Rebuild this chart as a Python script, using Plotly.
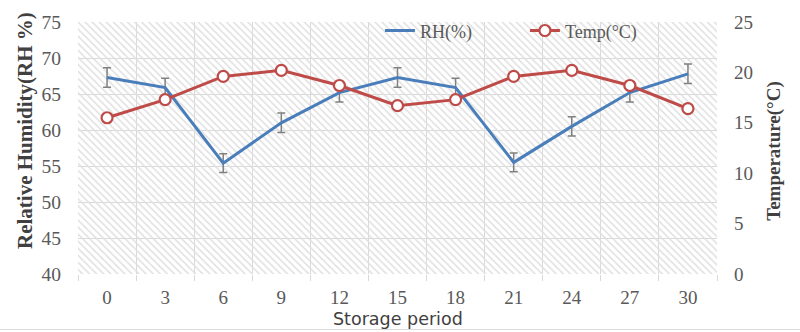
import plotly.graph_objects as go

# Storage period (days) and measured series
periods = ["0", "3", "6", "9", "12", "15", "18", "21", "24", "27", "30"]
rh_values = [67.3, 65.9, 55.4, 61.0, 65.2, 67.3, 65.9, 55.5, 60.5, 65.2, 67.8]
rh_errors = [1.35, 1.3, 1.3, 1.35, 1.3, 1.35, 1.3, 1.3, 1.35, 1.3, 1.35]
temp_values = [15.5, 17.3, 19.6, 20.2, 18.7, 16.7, 17.3, 19.6, 20.2, 18.7, 16.4]

rh_ticks = [40, 45, 50, 55, 60, 65, 70, 75]
temp_ticks = [0, 5, 10, 15, 20, 25]

xs = list(range(len(periods)))
GRID = "#d9d9d9"
TICK_COLOR = "#595959"
SERIF = "Liberation Serif"

fig = go.Figure()

# hatched plot-area fill (transparent between stripes so the grid shows through)
fig.add_trace(go.Bar(
    x=[(len(periods) - 1) / 2], y=[rh_ticks[-1] - rh_ticks[0]], base=[rh_ticks[0]],
    width=[len(periods)],
    marker=dict(color="#e0e0e0", line=dict(width=0),
                pattern=dict(shape="\\", size=5, solidity=0.3,
                             bgcolor="rgba(0,0,0,0)", fillmode="replace")),
    showlegend=False, hoverinfo="skip", yaxis="y",
))

fig.add_trace(go.Scatter(
    x=xs, y=rh_values, name="RH(%)", mode="lines",
    line=dict(color="#4a7ebb", width=3),
    error_y=dict(type="data", array=rh_errors, visible=True,
                 color="#808080", thickness=1.5, width=4),
    yaxis="y",
))

fig.add_trace(go.Scatter(
    x=xs, y=temp_values, name="Temp(°C)", mode="lines+markers",
    line=dict(color="#be4b48", width=3),
    marker=dict(symbol="circle", size=11, color="white",
                line=dict(color="#be4b48", width=2.2)),
    yaxis="y2",
))

fig.update_layout(
    width=800, height=332,
    margin=dict(l=78, r=83, t=16, b=58),
    paper_bgcolor="white", plot_bgcolor="white",
    bargap=0,
    font=dict(family=SERIF, color=TICK_COLOR, size=18),
    showlegend=True,
    legend=dict(orientation="h", x=0.4725, xanchor="left", y=0.965, yanchor="middle",
                bgcolor="rgba(0,0,0,0)", font=dict(family=SERIF, size=18, color=TICK_COLOR),
                entrywidth=100, entrywidthmode="pixels", traceorder="normal"),
    xaxis=dict(
        range=[-0.5, len(periods) - 0.5],
        tickmode="array", tickvals=xs, ticktext=periods,
        showgrid=False, zeroline=False, showline=False, ticks="",
        ticklabelstandoff=10,
        tickfont=dict(family=SERIF, size=19, color=TICK_COLOR),
        minor=dict(tickmode="linear", tick0=-0.5, dtick=1, showgrid=True,
                   gridcolor=GRID, gridwidth=1.3, ticks="outside", ticklen=6,
                   tickcolor=GRID, tickwidth=1.3),
    ),
    yaxis=dict(
        range=[rh_ticks[0], rh_ticks[-1]], tickmode="array", tickvals=rh_ticks,
        showgrid=True, gridcolor=GRID, gridwidth=1.3, zeroline=False, showline=False,
        ticks="", ticklabelstandoff=16,
        tickfont=dict(family=SERIF, size=19.5, color=TICK_COLOR),
    ),
    yaxis2=dict(
        range=[temp_ticks[0], temp_ticks[-1]], tickmode="array", tickvals=temp_ticks,
        overlaying="y", side="right", showgrid=False, zeroline=False, showline=False,
        ticks="", ticklabelstandoff=16,
        tickfont=dict(family=SERIF, size=19, color=TICK_COLOR),
    ),
)

# axis titles
fig.add_annotation(text="<b>Relative Humidity(RH %)</b>", textangle=-90,
                   xref="paper", yref="paper", x=-0.082, y=0.57,
                   xanchor="center", yanchor="middle", showarrow=False,
                   font=dict(family=SERIF, size=21, color="#404040"))
fig.add_annotation(text="<b>Temperature(°C)</b>", textangle=-90,
                   xref="paper", yref="paper", x=1.088, y=0.49,
                   xanchor="center", yanchor="middle", showarrow=False,
                   font=dict(family=SERIF, size=19, color="#404040"))
fig.add_annotation(text="Storage period",
                   xref="paper", yref="paper", x=0.5, y=-0.18,
                   xanchor="center", yanchor="middle", showarrow=False,
                   font=dict(family="DejaVu Sans", size=17.5, color="#404040"))

# chart border line along the bottom edge
fig.add_shape(type="line", xref="paper", yref="paper",
              x0=-0.2, x1=1.2, y0=-0.22, y1=-0.22,
              line=dict(color="#d9d9d9", width=1))

fig.write_html("out.html")
